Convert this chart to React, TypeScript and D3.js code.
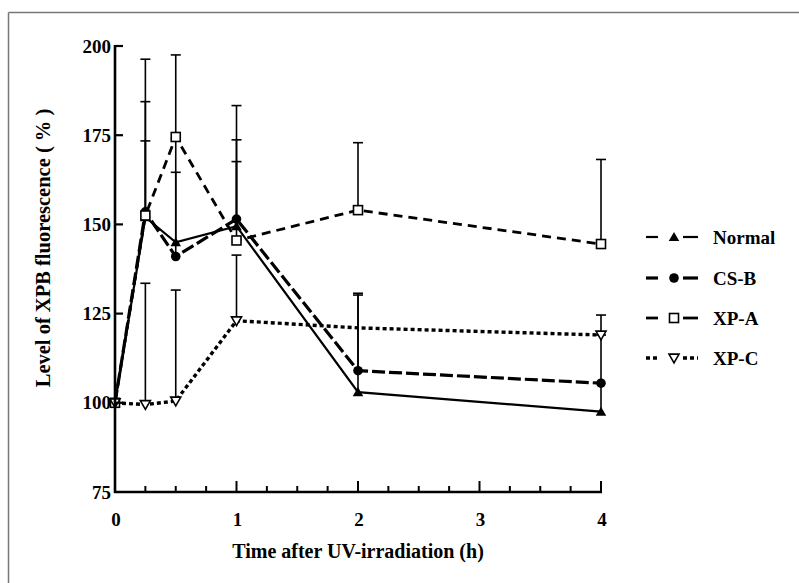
import React from 'react';
import * as d3 from 'd3';

const width = 799;
const height = 583;
const plot = { left: 115, right: 601, top: 46, bottom: 492 };

// sampling times (h)
const times = [0, 0.25, 0.5, 1, 2, 4];

// mean level of XPB fluorescence (%)
const normal = [100, 152, 145, 149.5, 103, 97.5];
const csb = [100, 153.5, 141, 151.5, 109, 105.5];
const xpa = [100, 152.5, 174.5, 145.5, 154, 144.5];
const xpc = [100, 99.5, 100.5, 123, 121, 119];

// upper end of the error bars (null = no bar)
const normalErr = [null, 173.4, 164.6, 167.6, 130.2, 119];
const csbErr = [null, 184.4, 174, 173.7, 130.7, null];
const xpaErr = [null, 196.3, 197.5, 183.3, 172.9, 168.2];
const xpcErr = [null, 133.5, 131.6, 141.4, null, 124.6];
const xpcShown = [true, true, true, true, false, true];

const yTicks = [75, 100, 125, 150, 175, 200];
const xTicks = [0, 1, 2, 3, 4];

const font = '"Liberation Serif", "Times New Roman", serif';

const series = [
  { name: 'Normal', values: normal, err: normalErr, shown: null, marker: 'tri', dash: null, lw: 2.2 },
  { name: 'CS-B', values: csb, err: csbErr, shown: null, marker: 'circle', dash: '13,4', lw: 3.2 },
  { name: 'XP-A', values: xpa, err: xpaErr, shown: null, marker: 'square', dash: '9,6', lw: 2.8 },
  { name: 'XP-C', values: xpc, err: xpcErr, shown: xpcShown, marker: 'down', dash: '4,3', lw: 3.4 },
];

const x = d3.scaleLinear().domain([0, 4]).range([plot.left, plot.right]);
const y = d3.scaleLinear().domain([75, 200]).range([plot.bottom, plot.top]);

function Marker({ kind, cx, cy }: { kind: string; cx: number; cy: number }) {
  if (kind === 'tri') {
    const p = d3.symbol().type(d3.symbolTriangle).size(48)();
    return <path d={p!} transform={`translate(${cx},${cy + 1})`} fill="#000" />;
  }
  if (kind === 'circle') {
    return <circle cx={cx} cy={cy} r={4.8} fill="#000" />;
  }
  if (kind === 'square') {
    return <rect x={cx - 4.5} y={cy - 4.5} width={9} height={9} fill="#fff" stroke="#000" strokeWidth={1.6} />;
  }
  const p = d3.symbol().type(d3.symbolTriangle).size(44)();
  return <path d={p!} transform={`translate(${cx},${cy - 1}) rotate(180)`} fill="#fff" stroke="#000" strokeWidth={1.6} />;
}

export default function App() {
  const line = d3.line<number>()
    .x((d, i) => x(times[i]))
    .y(d => y(d));

  const minor = d3.range(0.25, 4.01, 0.25);
  const legendY = [237, 278, 318, 358];

  return (
    <svg width={width} height={height} style={{ position: 'absolute', left: 0, top: 0, background: '#fff' }}>
      <rect x={0} y={0} width={width} height={height} fill="#fff" />
      {/* frame */}
      <line x1={8.5} y1={12.5} x2={width} y2={12.5} stroke="#777" strokeWidth={1.5} />
      <line x1={8.5} y1={12.5} x2={8.5} y2={height} stroke="#777" strokeWidth={1.5} />

      {/* lines */}
      {series.map(s => (
        <path key={s.name} d={line(s.values)!} fill="none" stroke="#000"
          strokeWidth={s.lw} strokeDasharray={s.dash || undefined} />
      ))}

      {/* error bars */}
      {series.map(s => s.err.map((e, i) => e == null ? null : (
        <g key={s.name + i} stroke="#000" strokeWidth={1.6}>
          <line x1={x(times[i])} x2={x(times[i])} y1={y(s.values[i])} y2={y(e)} />
          <line x1={x(times[i]) - 5} x2={x(times[i]) + 5} y1={y(e)} y2={y(e)} />
        </g>
      )))}

      {/* markers */}
      {series.map(s => s.values.map((v, i) => (s.shown && !s.shown[i]) ? null : (
        <Marker key={s.name + i} kind={s.marker} cx={x(times[i])} cy={y(v)} />
      )))}

      {/* axes */}
      <line x1={plot.left} x2={plot.left} y1={y(200) - 1} y2={plot.bottom + 1} stroke="#000" strokeWidth={2.6} />
      <line x1={plot.left - 1} x2={plot.right + 1} y1={plot.bottom} y2={plot.bottom} stroke="#000" strokeWidth={2.6} />
      {yTicks.filter(t => t > 75).map(t => (
        <line key={t} x1={plot.left} x2={plot.left + 8} y1={y(t)} y2={y(t)} stroke="#000" strokeWidth={2.2} />
      ))}
      {minor.map(t => (
        <line key={t} x1={x(t)} x2={x(t)} y1={plot.bottom} y2={plot.bottom - (t % 1 === 0 ? 11 : 6)}
          stroke="#000" strokeWidth={2} />
      ))}
      {yTicks.map(t => (
        <text key={t} x={plot.left - 4} y={y(t)} dy="0.35em" textAnchor="end"
          fontFamily={font} fontWeight="bold" fontSize={19}>{t}</text>
      ))}
      {xTicks.map(t => (
        <text key={t} x={x(t) + 1} y={526} textAnchor="middle"
          fontFamily={font} fontWeight="bold" fontSize={19}>{t}</text>
      ))}
      <text x={(plot.left + plot.right) / 2} y={558} textAnchor="middle"
        fontFamily={font} fontWeight="bold" fontSize={20}>Time after UV-irradiation (h)</text>
      <text transform={`translate(50,248) rotate(-90)`} textAnchor="middle"
        fontFamily={font} fontWeight="bold" fontSize={20.5}>Level of XPB fluorescence ( % )</text>

      {/* legend */}
      {series.map((s, i) => (
        <g key={s.name}>
          <line x1={646} x2={658} y1={legendY[i]} y2={legendY[i]} stroke="#000" strokeWidth={s.lw}
            strokeDasharray={s.name === 'XP-C' ? '4,3' : undefined} />
          <line x1={683} x2={698} y1={legendY[i]} y2={legendY[i]} stroke="#000" strokeWidth={s.lw}
            strokeDasharray={s.name === 'XP-C' ? '4,3' : undefined} />
          <Marker kind={s.marker} cx={674} cy={legendY[i]} />
          <text x={713} y={legendY[i]} dy="0.35em" fontFamily={font} fontWeight="bold" fontSize={19}>{s.name}</text>
        </g>
      ))}
    </svg>
  );
}
